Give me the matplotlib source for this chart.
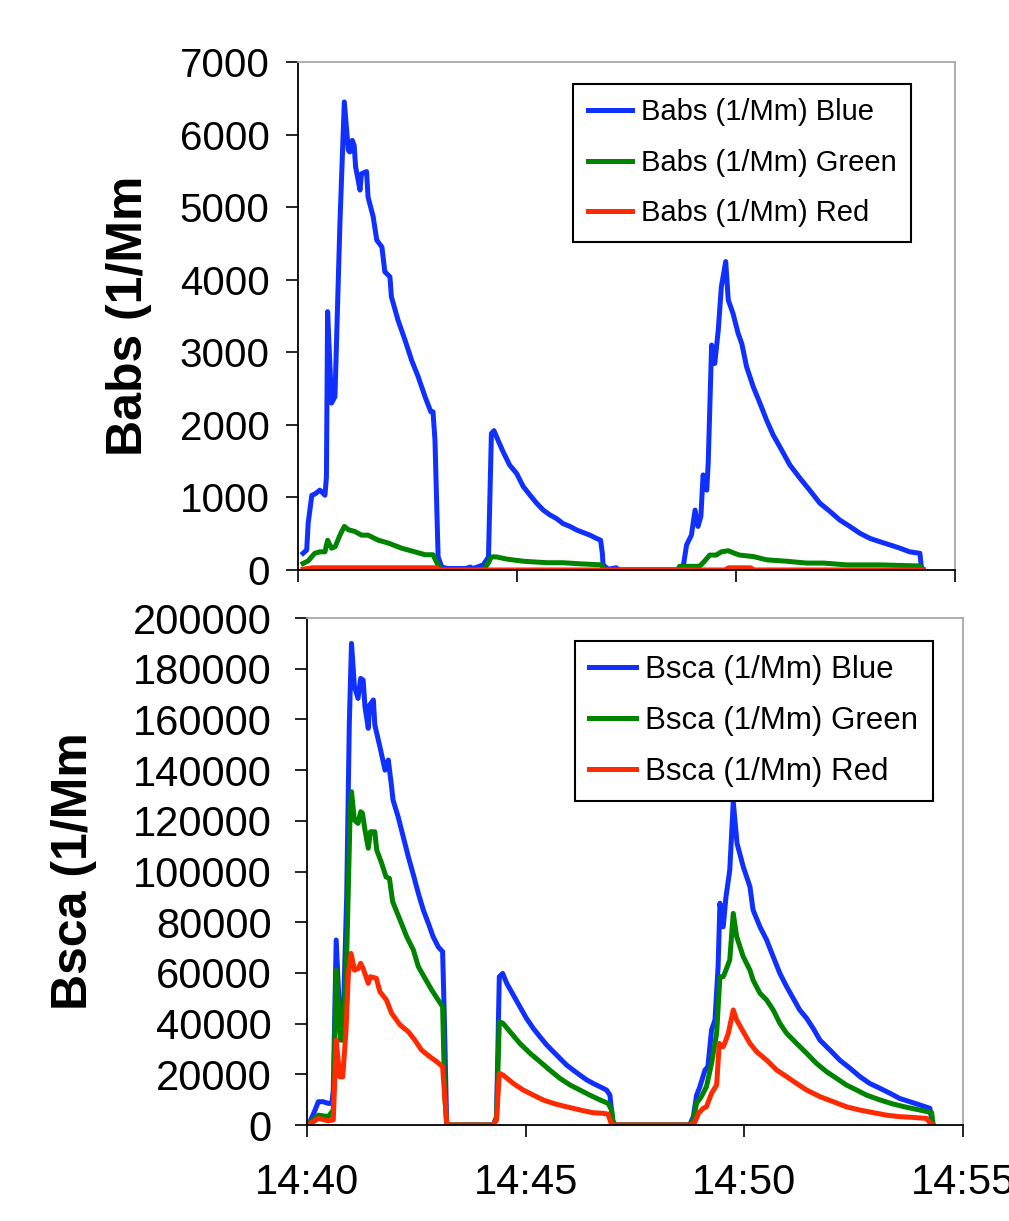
#babs / bsca time series, two stacked panels
from datetime import datetime, timedelta
import matplotlib
matplotlib.use("Agg")
import matplotlib.pyplot as plt
import matplotlib.dates as mdates

plt.rcParams['font.family'] = ['Liberation Sans', 'DejaVu Sans']

# seconds after 14:40:00 and values
babs_blue_t = [7, 12, 14, 19, 23, 30, 37, 39, 40.6, 46, 50.7, 57.5, 63.5, 69, 71, 74.4, 77, 79, 85, 87,
               94, 96, 103, 108, 115, 119, 126, 128, 137, 146.6, 155.7, 164.8, 174, 182, 185, 187.7, 192, 197, 205, 230,
               236, 240, 254, 261, 265, 268.5, 274, 281, 290, 299.6, 308.6, 318, 327, 336, 345, 354, 363, 372.6, 382, 391,
               400, 409, 414.6, 417, 418, 425, 436, 440, 520, 523, 528, 532.4, 539, 544, 548, 552, 555, 560, 562, 566.7,
               571, 575.8, 580, 586, 589.5, 596, 603, 608, 614.6, 623.7, 633, 642, 651, 660, 674, 687.7, 701, 715, 729, 742,
               756, 770, 783.6, 797, 811, 824.7, 838, 852, 854, 857]
babs_blue = [230, 275, 645, 1030, 1045, 1100, 1030, 1285, 3560, 2300, 2390, 4780, 6450, 5785, 5760, 5920, 5850, 5555, 5235, 5460,
             5490, 5140, 4870, 4545, 4450, 4110, 4040, 3765, 3445, 3170, 2890, 2660, 2390, 2180, 2180, 1790, 180, 40, 20, 20,
             40, 20, 70, 180, 1880, 1920, 1790, 1630, 1445, 1330, 1150, 1030, 920, 825, 760, 710, 640, 600, 550, 515,
             480, 435, 410, 230, 70, 10, 30, 0, 0, 45, 60, 345, 480, 825, 600, 740, 1310, 1100, 1470, 3100,
             2845, 3305, 3900, 4250, 3720, 3535, 3260, 3120, 2800, 2525, 2295, 2065, 1860, 1700, 1445, 1265, 1100, 920, 805, 690,
             600, 505, 435, 390, 345, 300, 250, 230, 45, 0]

babs_green_t = [7, 14, 23, 30, 37, 40.6, 46, 51, 57.5, 63.5, 69, 78, 87, 96, 110, 124, 142, 160, 174, 185,
                192, 197, 254, 261, 265, 272, 286, 309, 341, 363, 386, 416, 419, 520, 523, 550, 556, 564, 573, 580,
                589.5, 598, 605, 623.7, 642, 669.5, 697, 720, 751.6, 797, 852, 855, 857]
babs_green = [90, 125, 230, 250, 250, 410, 300, 320, 480, 600, 555, 530, 480, 480, 410, 370, 300, 250, 210, 210,
              65, 0, 0, 100, 180, 180, 150, 120, 100, 100, 85, 70, 0, 0, 50, 50, 110, 205, 205, 250,
              265, 230, 205, 185, 140, 120, 95, 95, 70, 70, 55, 0, 0]

babs_red_t = [7, 20, 190, 193, 585, 590, 620, 625, 857]
babs_red = [10, 30, 30, 0, 0, 30, 30, 0, 0]

bsca_blue_t = [4, 11, 15.5, 22, 29, 34, 36, 40, 46, 49, 54.4, 58, 61, 65, 70, 73.6, 77, 79.5, 84, 86,
               91, 93, 100, 107, 111.5, 116, 118, 125, 132, 139, 146, 152.7, 159.6, 166.4, 173, 180, 186, 188, 191.6, 194,
               255.6, 260, 263.8, 268.4, 274, 283, 292, 301, 310.5, 319.6, 328.8, 338, 347, 356, 365, 374.5, 383.7, 392.7, 402, 411,
               415.6, 419, 422, 525, 530, 534.5, 539, 546, 550, 555, 559.7, 564, 566.5, 571, 574.8, 580, 584.8, 590, 598.5, 607.7,
               612, 621.4, 630.6, 639.6, 648.8, 658, 667, 676, 685.5, 694.5, 703.7, 717.4, 731, 745, 758.6, 772, 786, 800, 813, 827,
               841, 854.6, 858]
bsca_blue = [1300, 5900, 9200, 9200, 8550, 8550, 13800, 73000, 34800, 34800, 90000, 158500, 190000, 173000, 168300, 176200, 175500, 165000, 156500, 165700,
             167700, 157800, 149200, 140000, 144000, 133500, 128200, 121600, 113700, 105800, 98600, 91400, 84800, 79600, 74300, 70300, 68400, 46700, 500, 0,
             0, 3300, 58500, 59800, 55900, 51300, 46700, 42100, 38100, 34800, 31600, 28900, 26300, 23700, 21700, 19700, 17800, 16400, 15100, 13800,
             11800, 2000, 0, 0, 3300, 11800, 15100, 21700, 23000, 37500, 41400, 62500, 87500, 78200, 90000, 100600, 127500, 111100, 101900, 94000,
             84800, 78200, 73000, 66400, 59800, 54600, 50000, 45400, 42100, 38100, 33500, 29600, 25600, 22400, 19100, 16400, 14500, 12500, 10500, 9200,
             7900, 6600, 0]

bsca_green_t = [4, 15.5, 29, 36, 40, 46, 49, 54.4, 59, 61, 65, 70, 73.6, 76, 79.5, 84, 87, 93, 95.6, 102.5,
                108.4, 113, 117.5, 127.6, 136.8, 146, 152.7, 161.8, 171, 180, 186, 189, 191.6, 194, 255.6, 260, 263.8, 269, 278.5, 292,
                306, 319.6, 333, 347, 360.8, 374.5, 388, 402, 413, 418, 420, 422, 525, 530, 534.5, 541, 548, 555, 562, 566.5,
                571, 573, 580, 584.8, 589.5, 598.5, 607.7, 612, 621.4, 630.6, 639.6, 648.8, 658, 671.7, 685.5, 699, 713, 726.6, 740, 754,
                767.7, 786, 804, 822.6, 841, 857, 859]
bsca_green = [1000, 3900, 3300, 5900, 61100, 33500, 33500, 66400, 121600, 131500, 120300, 119000, 123600, 123000, 116400, 109200, 115700, 115700, 108500, 103200,
              97900, 97300, 88100, 80900, 74300, 69000, 62500, 57900, 53300, 49300, 46700, 11200, 500, 0, 0, 2600, 40800, 40100, 36800, 32200,
              28300, 25000, 21700, 18400, 15800, 13800, 11800, 9900, 8550, 5900, 1000, 0, 0, 2000, 8600, 11200, 15100, 24300, 36200, 58500,
              58500, 59800, 65100, 83500, 74300, 66400, 61100, 57200, 52000, 49300, 45400, 40100, 36200, 32200, 28300, 24300, 21000, 18400, 15800, 13800,
              11800, 9900, 8300, 7000, 5900, 4900, 0]

bsca_red_t = [4, 15.5, 29, 36, 40, 45, 49, 53.5, 56.7, 60.4, 65, 70, 73.6, 77, 84, 87, 95, 100, 109, 116,
              127.6, 139, 148, 157, 168.7, 178, 186, 191.6, 194, 255.6, 260, 263.8, 269, 283, 296.7, 310.5, 324, 338, 351.6, 365,
              379, 392.7, 406.5, 413, 418, 422, 525, 532, 537, 543.6, 548, 555, 562, 565.6, 571, 573, 578, 584.8, 589.5, 598.5,
              607.7, 616.9, 630.6, 644.3, 658, 671.7, 685.5, 703.7, 722, 740, 758.6, 776.8, 795, 813, 832, 850, 857, 859]
bsca_red = [500, 2600, 1700, 2000, 33500, 19000, 19000, 37500, 59800, 67700, 61100, 61700, 63800, 61700, 55900, 58500, 57900, 52600, 49300, 44100,
            39500, 36800, 33500, 29600, 26900, 25000, 23000, 500, 0, 0, 2000, 20400, 19700, 16400, 13800, 11800, 9900, 8550, 7500, 6600,
            5650, 4850, 4600, 4300, 0, 0, 0, 1000, 4600, 6600, 7200, 12500, 15800, 32200, 30900, 32200, 36200, 45400, 41400, 36800,
            32200, 28900, 25600, 21700, 19100, 16400, 13800, 11200, 9200, 7200, 5900, 4900, 3900, 3300, 3000, 2600, 0, 0]

babs_ticks = [0, 1000, 2000, 3000, 4000, 5000, 6000, 7000]
bsca_ticks = [0, 20000, 40000, 60000, 80000, 100000, 120000, 140000, 160000, 180000, 200000]

blue = '#1030ff'
green = '#008400'
red = '#ff2a00'

start = datetime(2000, 1, 1, 14, 40)


def times(secs):
    return [start + timedelta(seconds=s) for s in secs]


fig = plt.figure(figsize=(10.09, 12.21), dpi=100)
ax1 = fig.add_axes([0.2953, 0.5332, 0.6511, 0.4160])
ax2 = fig.add_axes([0.3043, 0.0786, 0.6501, 0.4152])

lw = 3.6
ax1.plot(times(babs_blue_t), babs_blue, color=blue, lw=lw, label='Babs (1/Mm) Blue')
ax1.plot(times(babs_green_t), babs_green, color=green, lw=lw, label='Babs (1/Mm) Green')
ax1.plot(times(babs_red_t), babs_red, color=red, lw=lw, label='Babs (1/Mm) Red')

ax2.plot(times(bsca_blue_t), bsca_blue, color=blue, lw=lw, label='Bsca (1/Mm) Blue')
ax2.plot(times(bsca_green_t), bsca_green, color=green, lw=lw, label='Bsca (1/Mm) Green')
ax2.plot(times(bsca_red_t), bsca_red, color=red, lw=lw, label='Bsca (1/Mm) Red')

for ax in (ax1, ax2):
    ax.set_xlim(start, start + timedelta(minutes=15))
    ax.xaxis.set_major_locator(mdates.MinuteLocator(byminute=[40, 45, 50, 55]))
    ax.xaxis.set_major_formatter(mdates.DateFormatter('%H:%M'))
    ax.tick_params(direction='out', length=8.5, width=1.2, colors='black')
    for side in ('left', 'bottom'):
        ax.spines[side].set_color('black')
        ax.spines[side].set_linewidth(1.3)
    for side in ('top', 'right'):
        ax.spines[side].set_color('#a8a8a8')
        ax.spines[side].set_linewidth(1.3)

ax1.set_ylim(0, 7000)
ax1.set_yticks(babs_ticks)
ax1.tick_params(axis='y', pad=12, labelsize=29)
ax1.tick_params(axis='x', labelbottom=False)
ax2.set_ylim(0, 200000)
ax2.set_yticks(bsca_ticks)
ax2.ticklabel_format(axis='y', style='plain', useOffset=False)
ax2.tick_params(axis='y', pad=17, labelsize=30)
ax2.tick_params(axis='x', pad=19, labelsize=30)

ax1.set_ylabel('Babs (1/Mm', fontsize=36, fontweight='bold')
ax1.yaxis.set_label_coords(-0.222, 0.5)
ax2.set_ylabel('Bsca (1/Mm', fontsize=36, fontweight='bold')
ax2.yaxis.set_label_coords(-0.320, 0.5)

leg1 = ax1.legend(loc='upper right', bbox_to_anchor=(0.933, 0.957), fontsize=21, fancybox=False,
                  edgecolor='black', framealpha=1, handlelength=1.5, handletextpad=0.3,
                  labelspacing=0.77, borderpad=0.5, borderaxespad=0)
leg1.get_frame().set_linewidth(1.5)
leg2 = ax2.legend(loc='upper right', bbox_to_anchor=(0.954, 0.955), fontsize=22.5, fancybox=False,
                  edgecolor='black', framealpha=1, handlelength=1.5, handletextpad=0.3,
                  labelspacing=0.66, borderpad=0.46, borderaxespad=0)
leg2.get_frame().set_linewidth(1.5)

fig.savefig('out.png', dpi=100)
